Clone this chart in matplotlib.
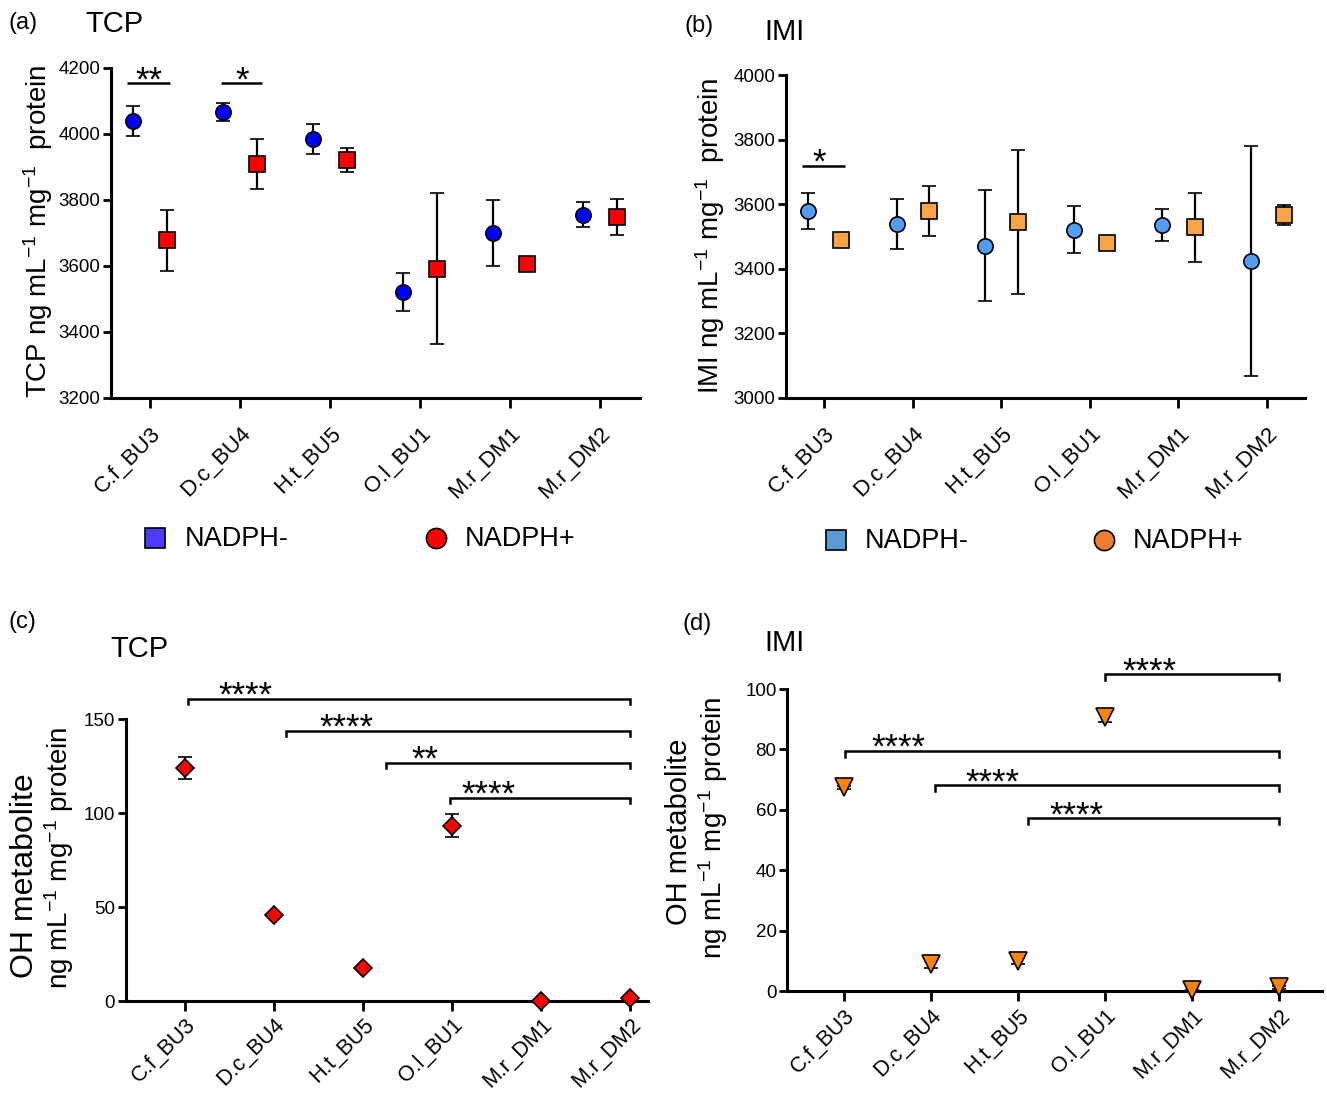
import matplotlib
matplotlib.use("Agg")
import matplotlib.pyplot as plt
from matplotlib.lines import Line2D
import numpy as np

plt.rcParams['font.family'] = ['Liberation Sans', 'DejaVu Sans']
plt.rcParams['mathtext.fontset'] = 'custom'
plt.rcParams['mathtext.rm'] = 'Liberation Sans'
plt.rcParams['mathtext.it'] = 'Liberation Sans:italic'
plt.rcParams['mathtext.bf'] = 'Liberation Sans:bold'

# ---------------- data ----------------
groups = ["C.f_BU3", "D.c_BU4", "H.t_BU5", "O.l_BU1", "M.r_DM1", "M.r_DM2"]

# (a) TCP parent compound
tcp_neg_mean = [4039, 4066, 3985, 3522, 3701, 3755]   # blue circles
tcp_neg_sd = [46, 28, 45, 57, 100, 38]
tcp_pos_mean = [3678, 3908, 3922, 3592, 3606, 3748]   # red squares
tcp_pos_sd = [93, 76, 37, 229, 8, 55]

# (b) IMI parent compound
imi_neg_mean = [3578, 3539, 3471, 3521, 3535, 3424]   # light-blue circles
imi_neg_sd = [56, 78, 172, 72, 49, 356]
imi_pos_mean = [3488, 3579, 3545, 3480, 3529, 3567]   # orange squares
imi_pos_sd = [8, 76, 222, 8, 107, 30]

# (c) TCP OH metabolite
tcp_oh_mean = [123.8, 45.5, 17.8, 93.3, 0.2, 1.4]
tcp_oh_sd = [5.8, 0.8, 0.8, 6.0, 0.2, 0.3]

# (d) IMI OH metabolite
imi_oh_mean = [67.4, 9.0, 9.9, 90.7, 0.2, 1.2]
imi_oh_sd = [0.4, 1.5, 1.0, 1.6, 0.2, 0.4]

# significance comparisons: (start, end, height, label)
sig_a = [(-0.25, 0.22, 4154, "**"), (0.79, 1.25, 4154, "*")]
sig_b = [(-0.25, 0.24, 3719, "*")]
sig_c = [(0.04, 5.0, 160.6, "****"), (1.13, 5.0, 143.6, "****"),
         (2.26, 5.0, 126.6, "**"), (2.98, 5.0, 108.2, "****")]
sig_c_text_x = [0.68, 1.81, 2.69, 3.41]
sig_d = [(3.0, 5.0, 104.9, "****"), (0.01, 5.0, 79.6, "****"),
         (1.04, 5.0, 68.1, "****"), (2.11, 5.0, 57.2, "****")]
sig_d_text_x = [3.51, 0.62, 1.71, 2.67]

# ---------------- figure ----------------
W, H = 1327, 1094
fig = plt.figure(figsize=(W / 100, H / 100), dpi=100)


def fx(x):
    return x / W


def fy(y):
    return 1 - y / H


def style_axis(ax, xfs, xpad):
    for s in ['top', 'right']:
        ax.spines[s].set_visible(False)
    for s in ['left', 'bottom']:
        ax.spines[s].set_linewidth(2.2)
    ax.tick_params(axis='y', direction='out', length=6, width=2, labelsize=13.5, pad=1.5)
    ax.tick_params(axis='x', direction='out', length=7, width=2, labelsize=xfs, pad=xpad)
    x = np.arange(len(groups))
    ax.set_xticks(x)
    ax.set_xticklabels(groups, rotation=45, ha='right', va='top', rotation_mode='anchor')


ebkw = dict(ecolor='black', elinewidth=1.6, capsize=5, capthick=2, linestyle='none', zorder=3)

# (a)
axA = fig.add_axes([fx(111), fy(398), fx(640 - 111), (398 - 68) / H])
x = np.arange(len(groups))
axA.errorbar(x - 0.19, tcp_neg_mean, yerr=tcp_neg_sd, marker='o', ms=11, mfc='#0000FF',
             mec='black', mew=1.2, **ebkw)
axA.errorbar(x + 0.19, tcp_pos_mean, yerr=tcp_pos_sd, marker='s', ms=11, mfc='#FF0000',
             mec='black', mew=1.2, **ebkw)
axA.set_ylim(3200, 4200)
axA.set_yticks([3200, 3400, 3600, 3800, 4000, 4200])
axA.set_xlim(-0.433, 5.444)
style_axis(axA, 16, 11)

# (b)
axB = fig.add_axes([fx(786), fy(398), fx(1305 - 786), (398 - 75) / H])
axB.errorbar(x - 0.18, imi_neg_mean, yerr=imi_neg_sd, marker='o', ms=11, mfc='#529DF2',
             mec='black', mew=1.2, **ebkw)
axB.errorbar(x + 0.19, imi_pos_mean, yerr=imi_pos_sd, marker='s', ms=11, mfc='#F9A445',
             mec='black', mew=1.2, **ebkw)
axB.set_ylim(3000, 4000)
axB.set_yticks([3000, 3200, 3400, 3600, 3800, 4000])
axB.set_xlim(-0.43, 5.43)
style_axis(axB, 16, 11)

# (c)
axC = fig.add_axes([fx(125.5), fy(1001), fx(648 - 125.5), (1001 - 719) / H])
axC.errorbar(x, tcp_oh_mean, yerr=tcp_oh_sd, marker='D', ms=9.2, mfc='#FF0000',
             mec='black', mew=1.2, clip_on=False, **ebkw)
axC.set_ylim(0, 150)
axC.set_yticks([0, 50, 100, 150])
axC.set_xlim(-0.667, 5.2)
style_axis(axC, 15.5, 2.5)

# (d)
axD = fig.add_axes([fx(787), fy(991), fx(1322 - 787), (991 - 689) / H])
axD.errorbar(x, imi_oh_mean, yerr=imi_oh_sd, marker='v', ms=13.5, mfc='#FF8200',
             mec='black', mew=1.2, clip_on=False, **ebkw)
axD.set_ylim(0, 100)
axD.set_yticks([0, 20, 40, 60, 80, 100])
axD.set_xlim(-0.655, 5.49)
style_axis(axD, 15.5, 3)

STAR_FS = 25
STAR_DY = -5.0


def flat_bar(ax, x0, x1, y, label, tx=None):
    ax.plot([x0, x1], [y, y], color='black', lw=1.8, clip_on=False, solid_capstyle='butt')
    if tx is None:
        tx = (x0 + x1) / 2
    ax.annotate(label, xy=(tx, y), xytext=(0, STAR_DY), textcoords='offset points',
                ha='center', va='baseline', fontsize=STAR_FS, annotation_clip=False)


def bracket(ax, x0, x1, y, label, tx, drop):
    ax.plot([x0, x0, x1, x1], [y - drop, y, y, y - drop], color='black', lw=1.8,
            clip_on=False, solid_joinstyle='miter')
    ax.annotate(label, xy=(tx, y), xytext=(0, STAR_DY), textcoords='offset points',
                ha='center', va='baseline', fontsize=STAR_FS, annotation_clip=False)


for (x0, x1, y, lab) in sig_a:
    flat_bar(axA, x0, x1, y, lab, tx=(x0 + x1) / 2)
for (x0, x1, y, lab) in sig_b:
    flat_bar(axB, x0, x1, y, lab, tx=-0.06)
for (x0, x1, y, lab), tx in zip(sig_c, sig_c_text_x):
    bracket(axC, x0, x1, y, lab, tx, drop=2.8)
for (x0, x1, y, lab), tx in zip(sig_d, sig_d_text_x):
    bracket(axD, x0, x1, y, lab, tx, drop=2.0)

# panel letters and titles
LET_FS = 17
TIT_FS = 21
fig.text(fx(9), fy(23), "(a)", fontsize=LET_FS, va='center', ha='left')
fig.text(fx(85), fy(24), "TCP", fontsize=TIT_FS, va='center', ha='left')
fig.text(fx(684), fy(26), "(b)", fontsize=LET_FS, va='center', ha='left')
fig.text(fx(764), fy(32), "IMI", fontsize=TIT_FS, va='center', ha='left')
fig.text(fx(9), fy(622), "(c)", fontsize=LET_FS, va='center', ha='left')
fig.text(fx(110), fy(649), "TCP", fontsize=TIT_FS, va='center', ha='left')
fig.text(fx(683), fy(624), "(d)", fontsize=LET_FS, va='center', ha='left')
fig.text(fx(764), fy(643), "IMI", fontsize=TIT_FS, va='center', ha='left')

# y labels
fig.text(fx(38), fy(231), r"TCP ng mL$^{-1}$ mg$^{-1}$  protein", rotation=90,
         fontsize=20, ha='center', va='center')
fig.text(fx(710), fy(236), r"IMI ng mL$^{-1}$ mg$^{-1}$  protein", rotation=90,
         fontsize=20, ha='center', va='center')
fig.text(fx(25), fy(876), "OH metabolite", rotation=90,
         fontsize=23, ha='center', va='center')
fig.text(fx(59), fy(858), r"ng mL$^{-1}$ mg$^{-1}$ protein", rotation=90,
         fontsize=20, ha='center', va='center')
fig.text(fx(679), fy(832), "OH metabolite", rotation=90,
         fontsize=21, ha='center', va='center')
fig.text(fx(713), fy(828), r"ng mL$^{-1}$ mg$^{-1}$ protein", rotation=90,
         fontsize=20, ha='center', va='center')


# legends (panel a and b)
def legend_item(xp, yp, marker, color, ms, text, tx):
    fig.add_artist(Line2D([fx(xp)], [fy(yp)], marker=marker, ms=ms, mfc=color, mec='black',
                          mew=1.2, linestyle='none', transform=fig.transFigure))
    fig.text(fx(tx), fy(yp + 1), text, fontsize=19.5, ha='left', va='center')


legend_item(155, 538, 's', '#4B3CFF', 15, "NADPH-", 185)
legend_item(436, 538, 'o', '#FF0000', 14.5, "NADPH+", 465)
legend_item(836, 540, 's', '#5B9BD5', 15, "NADPH-", 865)
legend_item(1104, 540, 'o', '#ED7D31', 14.5, "NADPH+", 1133)

fig.savefig("out.png", dpi=100)
